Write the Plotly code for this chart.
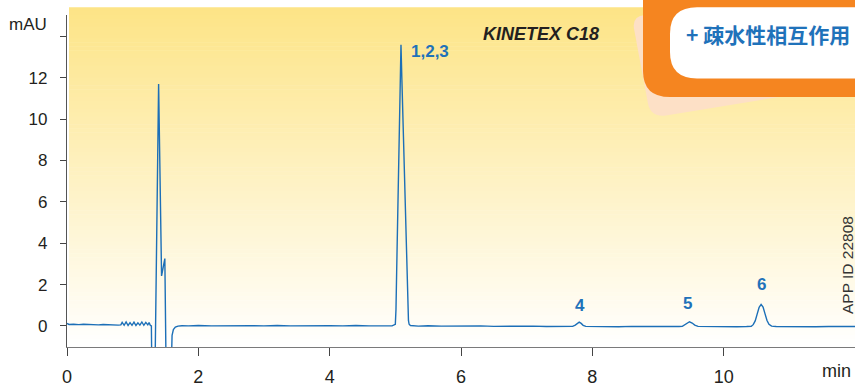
import plotly.graph_objects as go

# Chromatogram trace: retention time (min) and detector signal (mAU)
time_min = [
    0.00, 0.03, 0.10, 0.18, 0.25, 0.33, 0.40, 0.48, 0.55, 0.63, 0.70, 0.78,
    0.82, 0.84, 0.87, 0.90, 0.93, 0.96, 0.99, 1.02, 1.05, 1.08, 1.11, 1.14,
    1.17, 1.20, 1.23, 1.25, 1.27,
    1.285, 1.295, 1.335, 1.345, 1.395, 1.44, 1.49, 1.505, 1.515, 1.58, 1.59,
    1.60, 1.62, 1.65, 1.69, 1.75,
    1.85, 2.0, 2.2, 2.4, 2.6, 2.8, 3.0, 3.2, 3.4, 3.6, 3.8, 4.0, 4.2, 4.4,
    4.6, 4.8, 4.95,
    5.00, 5.01, 5.02, 5.04, 5.06, 5.08, 5.086, 5.10, 5.12, 5.14, 5.16, 5.18,
    5.19, 5.20, 5.21, 5.23,
    5.35, 5.5, 5.7, 5.9, 6.1, 6.3, 6.5, 6.7, 6.9, 7.1, 7.3, 7.5, 7.65,
    7.70, 7.74, 7.77, 7.80, 7.83, 7.86, 7.90,
    8.0, 8.2, 8.4, 8.6, 8.8, 9.0, 9.2, 9.32,
    9.37, 9.41, 9.45, 9.48, 9.52, 9.56, 9.61,
    9.75, 9.9, 10.05, 10.2, 10.35,
    10.42, 10.45, 10.48, 10.51, 10.54, 10.57, 10.60, 10.63, 10.66, 10.69,
    10.73, 10.8,
    11.0, 11.2, 11.4, 11.6, 11.8, 12.0,
]
signal_mau = [
    0.12, 0.07, 0.08, 0.06, 0.08, 0.06, 0.07, 0.05, 0.07, 0.05, 0.06, 0.04,
    0.05, 0.17, 0.03, 0.19, 0.02, 0.16, 0.03, 0.18, 0.02, 0.15, 0.04, 0.19,
    0.03, 0.17, 0.05, 0.16, 0.02,
    0.0, -3.0, -3.0, -1.0, 11.7, 2.42, 3.26, -1.0, -3.0, -3.0, -1.0,
    -0.45, -0.18, -0.06, -0.01, 0.01,
    0.0, 0.02, 0.0, 0.01, -0.01, 0.01, 0.0, 0.02, 0.0, 0.01, -0.01, 0.01, 0.0,
    0.02, 0.0, 0.01, 0.0,
    0.08, 0.8, 2.6, 6.1, 9.4, 12.6, 13.6, 11.9, 9.4, 6.9, 4.5, 2.0,
    0.8, 0.25, 0.08, 0.02,
    -0.01, 0.01, -0.01, 0.0, -0.02, 0.0, -0.02, -0.01, -0.03, -0.01, -0.03,
    -0.02, -0.03,
    -0.02, 0.04, 0.13, 0.18, 0.12, 0.03, -0.02,
    -0.03, -0.02, -0.04, -0.02, -0.03, -0.04, -0.02, -0.03,
    -0.02, 0.05, 0.16, 0.20, 0.14, 0.04, -0.02,
    -0.03, -0.04, -0.03, -0.04, -0.03,
    -0.02, 0.06, 0.24, 0.57, 0.90, 1.04, 0.91, 0.58, 0.26, 0.08,
    -0.01, -0.03,
    -0.04, -0.03, -0.04, -0.03, -0.04, -0.03,
]

# Peak identification labels and the apex each one marks
peak_labels = ["1,2,3", "4", "5", "6"]
peak_time = [5.086, 7.80, 9.48, 10.57]
peak_height = [13.6, 0.18, 0.20, 1.04]

x_ticks = [0, 2, 4, 6, 8, 10]
y_ticks = [0, 2, 4, 6, 8, 10, 12, 14]
y_tick_text = ["0", "2", "4", "6", "8", "10", "12", ""]

W, H = 855, 387
ML, MR, MT, MB = 67, 0, 15, 32
BLUE = "#1c6fb7"
LABEL_BLUE = "#1f72ba"
ORANGE = "#f58520"
TEXT = "#231f20"
SANS = "Liberation Sans, Arial, sans-serif"


def px(x):
    return (x - ML) / (W - ML - MR)


def py(y):
    return (H - MB - y) / (H - MT - MB)


def path(points_cmds):
    out = []
    for cmd, pts in points_cmds:
        coords = " ".join(f"{px(a):.5f},{py(b):.5f}" for a, b in pts)
        out.append(f"{cmd} {coords}".strip())
    return " ".join(out)


fig = go.Figure()

fig.add_trace(go.Scatter(
    x=time_min, y=signal_mau, mode="lines",
    line=dict(color=BLUE, width=1.4), hoverinfo="skip", showlegend=False,
))

shapes = []

# Soft yellow-to-white backdrop behind the plot area
top_c = (253, 228, 134)
bot_c = (255, 255, 255)
y0, y1 = 7, 355
n_strips = 87
step = (y1 - y0) / n_strips
for i in range(n_strips):
    f = (i + 0.5) / n_strips
    c = tuple(round(top_c[k] + (bot_c[k] - top_c[k]) * f) for k in range(3))
    shapes.append(dict(
        type="rect", xref="paper", yref="paper", layer="below",
        x0=px(69), x1=px(W + 2), y0=py(y0 + i * step + step + 0.5), y1=py(y0 + i * step),
        fillcolor=f"rgb{c}", line=dict(width=0),
    ))

# Tilted peach card behind the badge
shapes.append(dict(
    type="path", xref="paper", yref="paper", layer="above",
    path=path([
        ("M", [(645, 15)]),
        ("Q", [(632, 16), (634, 29)]),
        ("L", [(648, 106)]),
        ("Q", [(651, 120), (666, 118)]),
        ("L", [(820, 92)]),
        ("L", [(820, 15)]),
        ("Z", []),
    ]),
    fillcolor="#fde0c6", line=dict(width=0),
))

# Orange badge frame
shapes.append(dict(
    type="path", xref="paper", yref="paper", layer="above",
    path=path([
        ("M", [(643, -20)]),
        ("L", [(643, 72)]),
        ("Q", [(643, 99), (670, 99)]),
        ("L", [(870, 99)]),
        ("L", [(870, -20)]),
        ("Z", []),
    ]),
    fillcolor=ORANGE, line=dict(width=0),
))

# White inner panel of the badge
shapes.append(dict(
    type="path", xref="paper", yref="paper", layer="above",
    path=path([
        ("M", [(697, 7)]),
        ("Q", [(670, 7), (670, 34)]),
        ("L", [(670, 53)]),
        ("Q", [(670, 80), (697, 80)]),
        ("L", [(870, 80)]),
        ("L", [(870, 7)]),
        ("Z", []),
    ]),
    fillcolor="#ffffff", line=dict(width=0),
))

annotations = []

# Peak number labels, offset from each apex
label_style = [
    dict(xanchor="left", yanchor="middle", xshift=8, yshift=-7),
    dict(xanchor="center", yanchor="bottom", xshift=1, yshift=5),
    dict(xanchor="center", yanchor="bottom", xshift=-2, yshift=7),
    dict(xanchor="center", yanchor="bottom", xshift=0, yshift=8),
]
for lab, t, h, st in zip(peak_labels, peak_time, peak_height, label_style):
    annotations.append(dict(
        x=t, y=h, xref="x", yref="y", text=f"<b>{lab}</b>", showarrow=False,
        font=dict(family=SANS, size=17, color=LABEL_BLUE),
        **st,
    ))

annotations += [
    dict(x=px(7), y=py(25), xref="paper", yref="paper", text="mAU",
         xanchor="left", yanchor="middle", showarrow=False,
         font=dict(family=SANS, size=17, color=TEXT)),
    dict(x=px(853), y=py(380), xref="paper", yref="paper", text="min",
         xanchor="right", yanchor="middle", showarrow=False,
         font=dict(family=SANS, size=18, color=TEXT)),
    dict(x=px(601), y=py(34), xref="paper", yref="paper", text="<b><i>KINETEX C18</i></b>",
         xanchor="right", yanchor="middle", showarrow=False,
         font=dict(family=SANS, size=18, color=TEXT)),
    dict(x=px(848), y=py(271), xref="paper", yref="paper", text="APP ID 22808",
         textangle=-90, xanchor="center", yanchor="middle", showarrow=False,
         font=dict(family=SANS, size=15.5, color="#333333")),
    dict(x=px(684), y=py(34), xref="paper", yref="paper", text="<b>+ 疎水性相互作用</b>",
         xanchor="left", yanchor="middle", showarrow=False,
         font=dict(family="Noto Sans CJK JP, sans-serif", size=21, color=LABEL_BLUE)),
]

fig.update_layout(
    width=W, height=H,
    margin=dict(l=ML, r=MR, t=MT, b=MB, pad=0),
    paper_bgcolor="#ffffff", plot_bgcolor="rgba(0,0,0,0)",
    shapes=shapes, annotations=annotations, showlegend=False,
    xaxis=dict(
        range=[0, 12.0], tickvals=x_ticks, ticktext=[str(v) for v in x_ticks],
        showgrid=False, zeroline=False, showline=True, linecolor="#7a7a7a", linewidth=1.3,
        ticks="outside", ticklen=8, tickwidth=1.2, tickcolor="#444444",
        ticklabelstandoff=5,
        tickfont=dict(family=SANS, size=18, color=TEXT),
    ),
    yaxis=dict(
        range=[-1.02, 15.04], tickvals=y_ticks, ticktext=y_tick_text,
        showgrid=False, zeroline=False, showline=True, linecolor="#555555", linewidth=1.2,
        ticks="outside", ticklen=6, tickwidth=1.2, tickcolor="#444444",
        ticklabelstandoff=9,
        tickfont=dict(family=SANS, size=17, color=TEXT),
    ),
)

fig.write_html("out.html")
